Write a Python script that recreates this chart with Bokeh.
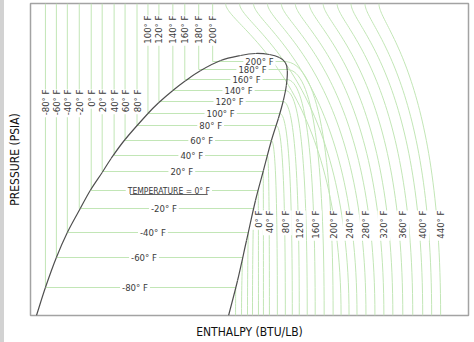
import numpy as np
from bokeh.plotting import figure
from bokeh.models import Range1d, FixedTicker, Div
from bokeh.layouts import row
from bokeh.embed import file_html
from bokeh.resources import INLINE
from bokeh.core.properties import value

# ---- data (schematic units: enthalpy along x, pressure along y) ----
sat_T = [-80, -60, -40, -20, 0, 20, 40, 60, 80, 100, 120, 140, 160, 180, 200]
liq_h = [15, 26, 37, 49, 61, 72, 84, 95, 107, 118, 129, 143, 155, 169, 183]
sat_p = [28, 58, 83, 107, 125, 144, 160, 175, 190, 202, 214, 225, 236, 246, 254]
sat_label_h = [105, 114, 123, 134, 139, 152, 162, 172, 181, 191, 200, 209, 217, 223, 230]

dome_h = [6, 15, 26, 37, 50, 60, 72, 81, 95, 118, 129, 143, 156, 171, 191, 211, 226, 240,
          250, 256, 258, 257, 254, 249, 242, 234, 226, 217, 208, 199]
dome_p = [0, 28, 58, 83, 107, 125, 143, 157, 176, 202, 213, 225, 235, 245, 255, 260, 262, 261,
          258, 253, 245, 230, 215, 197, 175, 145, 115, 75, 35, 0]

vap_T = list(range(-80, 441, 20))
vap_bot_h = [206, 212, 218, 223, 229, 234, 240, 248, 256, 263, 270, 278, 286, 295, 304, 312,
             320, 328, 337, 346, 355, 364, 374, 384, 394, 403, 412]
super_T = list(range(220, 441, 20))
super_top_h = [196, 210, 224, 238, 252, 266, 280, 294, 308, 322, 336, 350]

vap_label_T = list(range(0, 441, 40))

H_MAX, P_MAX = 440, 312
GREEN = "#c2e6b6"
TXT = "#3a3a3a"
FONT = "'Liberation Sans Narrow', 'DejaVu Sans Condensed', 'Liberation Sans', sans-serif"

p = figure(width=470, height=342, output_backend="svg", toolbar_location=None,
           x_range=Range1d(0, H_MAX), y_range=Range1d(0, P_MAX),
           min_border_left=24, min_border_right=6, min_border_top=3, min_border_bottom=27)
p.xgrid.visible = False
p.ygrid.visible = False
p.outline_line_color = "#a3a3a3"
p.outline_line_width = 1.5
p.background_fill_color = "white"
p.border_fill_color = "white"

for ax, lab, stand in ((p.xaxis[0], "ENTHALPY (BTU/LB)", 9), (p.yaxis[0], "PRESSURE (PSIA)", 9)):
    ax.ticker = FixedTicker(ticks=[])
    ax.axis_line_color = None
    ax.major_tick_line_color = None
    ax.minor_tick_line_color = None
    ax.major_label_text_font_size = "0px"
    ax.axis_label = lab
    ax.axis_label_standoff = stand
    ax.axis_label_text_font = FONT
    ax.axis_label_text_font_size = "12px"
    ax.axis_label_text_font_style = "normal"
    ax.axis_label_text_color = "#111111"

# saturation dome geometry helpers
peak = int(np.argmax(dome_p))
right_p = np.array(dome_p[peak:])[::-1]
right_h = np.array(dome_h[peak:])[::-1]
vap_h = np.interp(sat_p, right_p, right_h)
bot = dict(zip(vap_T, vap_bot_h))

# liquid (vertical) + two-phase (horizontal) parts of sub-critical isotherms
xs, ys = [], []
for hl, ps, hv in zip(liq_h, sat_p, vap_h):
    xs.append([hl, hl, hv])
    ys.append([P_MAX, ps, ps])
p.multi_line(xs, ys, line_color=GREEN, line_width=1)

# superheated parts of sub-critical isotherms
x0, y0, x1, y1, cx0, cy0, cx1, cy1 = [], [], [], [], [], [], [], []
for T, ps, hv in zip(sat_T, sat_p, vap_h):
    hb = bot[T]
    dx = max(hb - hv, 0)
    x0.append(hv); y0.append(ps)
    cx0.append(hv + 0.7 * dx); cy0.append(ps)
    cx1.append(hb); cy1.append(ps - 0.35 * ps)
    x1.append(hb); y1.append(0)
p.bezier(x0=x0, y0=y0, x1=x1, y1=y1, cx0=cx0, cy0=cy0, cx1=cx1, cy1=cy1,
         line_color=GREEN, line_width=1)

# super-critical isotherms
x0, y0, x1, y1, cx0, cy0, cx1, cy1 = [], [], [], [], [], [], [], []
for T, ht in zip(super_T, super_top_h):
    hb = bot[T]
    x0.append(ht); y0.append(P_MAX)
    cx0.append(ht); cy0.append(P_MAX - 22)
    cx1.append(hb); cy1.append(P_MAX - 70)
    x1.append(hb); y1.append(0)
p.bezier(x0=x0, y0=y0, x1=x1, y1=y1, cx0=cx0, cy0=cy0, cx1=cx1, cy1=cy1,
         line_color=GREEN, line_width=1)

# labels: white boxes first (to break the isotherms), glyphs drawn later
def labels(x, y, txt, size, angle=0.0, align="center", pad=1):
    kw = dict(x=x, y=y, text=txt, angle=angle, text_align=align, text_baseline="middle",
              text_font=value(FONT), text_font_size=size)
    p.text(text_color=None, background_fill_color="white", padding=pad, **kw)
    return kw

sat_text = [("TEMPERATURE = 0° F" if T == 0 else f"{T}° F") for T in sat_T]
sizes = ["8.5px" if T == 0 else "9.5px" for T in sat_T]
liq_lab_y = [226 if T <= 80 else 300 for T in sat_T]
k1 = labels(sat_label_h, sat_p, sat_text, sizes, pad=2)
k2 = labels(liq_h, liq_lab_y, [f"{T}° F" for T in sat_T], value("9.5px"),
            angle=np.pi / 2, align="right")
k3 = labels([bot[T] for T in vap_label_T], [105] * len(vap_label_T),
            [f"{T}° F" for T in vap_label_T], value("9.5px"), angle=np.pi / 2, align="right")

# saturation dome, drawn as a smooth curve through its points
pts = np.column_stack([dome_h, dome_p]).astype(float)
ext = np.vstack([2 * pts[0] - pts[1], pts, 2 * pts[-1] - pts[-2]])
A, B, C, D = ext[:-3], ext[1:-2], ext[2:-1], ext[3:]
c0 = B + (C - A) / 6.0
c1 = C - (D - B) / 6.0
p.bezier(x0=B[:, 0], y0=B[:, 1], x1=C[:, 0], y1=C[:, 1], cx0=c0[:, 0], cy0=c0[:, 1],
         cx1=c1[:, 0], cy1=c1[:, 1], line_color="#505050", line_width=1.2)

for kw in (k1, k2, k3):
    p.text(text_color=TXT, **kw)

i0 = sat_T.index(0)
p.segment(x0=[sat_label_h[i0] - 39], y0=[sat_p[i0] - 4], x1=[sat_label_h[i0] + 39],
          y1=[sat_p[i0] - 4], line_color=TXT, line_width=0.8)

strip = Div(width=4, height=342, margin=0, styles={"background-color": "#d2d2d2"})
layout = row(strip, p, spacing=0)

open("out.html", "w").write(file_html(layout, INLINE))
